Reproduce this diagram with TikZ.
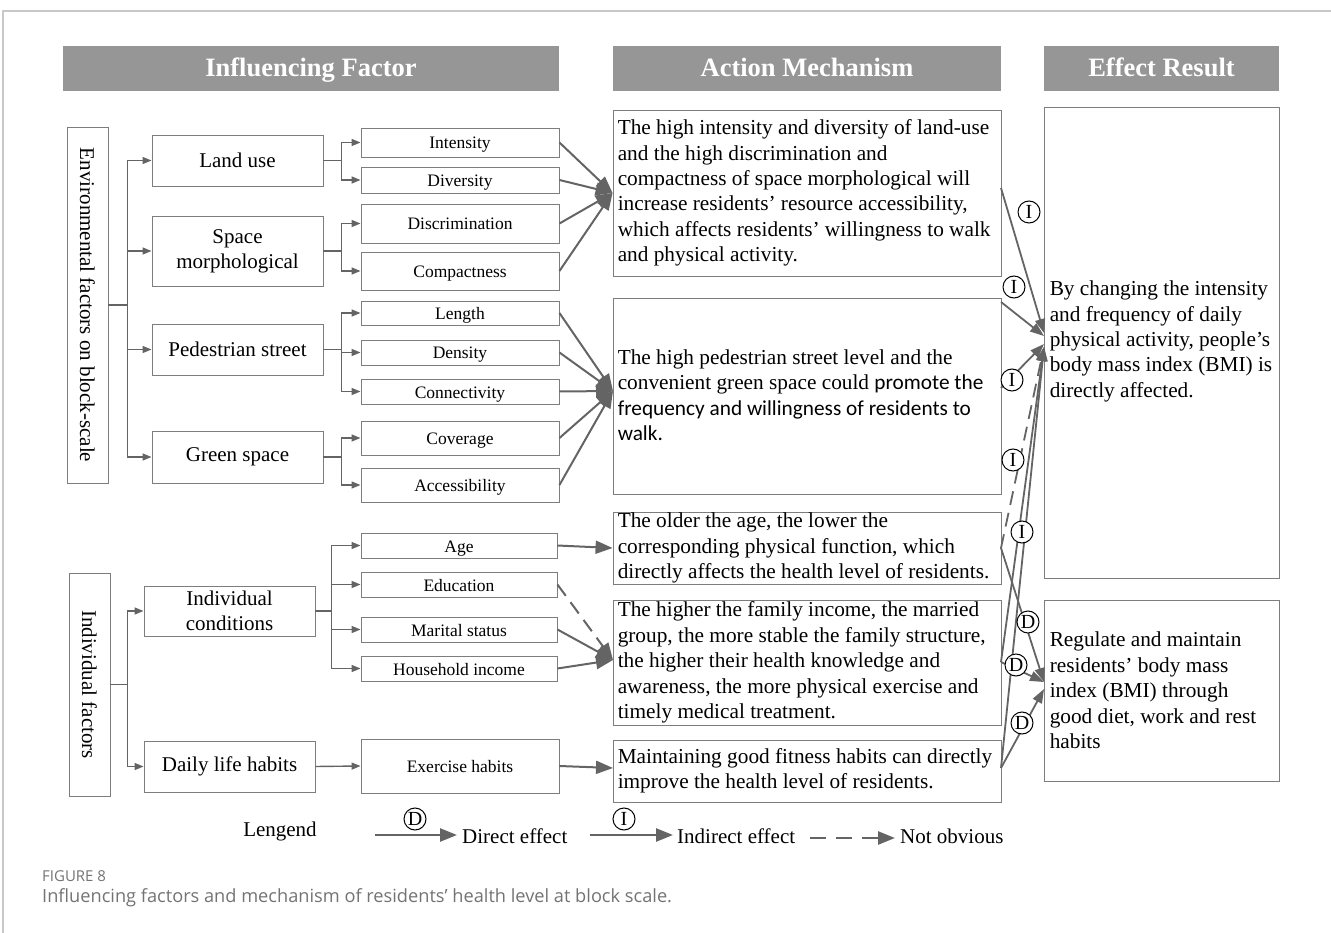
\documentclass[tikz,border=0pt]{standalone}
\usepackage{fontspec}
\setmainfont{Liberation Serif}
\newfontfamily\calib{Carlito}
\newfontfamily\capfont{Open Sans}
\usetikzlibrary{arrows.meta}
\definecolor{hdrgray}{RGB}{150,150,150}
\definecolor{boxgray}{RGB}{125,125,125}
\definecolor{linegray}{RGB}{100,100,100}
\definecolor{capgray}{RGB}{115,115,115}
\definecolor{framegray}{RGB}{200,200,200}
\begin{document}
\begin{tikzpicture}[x=1pt,y=-1pt,
  hdr/.style={fill=hdrgray,text=white,font=\bfseries\fontsize{26.5}{30}\selectfont,minimum height=45pt,inner sep=0pt,text height=21pt,text depth=4pt},
  box/.style={draw=boxgray,line width=0.9pt,fill=white,inner sep=0pt},
  lvltwo/.style={box,minimum width=171pt,font=\fontsize{21}{25}\selectfont,align=center},
  lvlthree/.style={box,font=\fontsize{17.5}{21}\selectfont,text height=16pt,text depth=3pt},
  atext/.style={anchor=west,align=left,inner sep=0pt,font=\fontsize{21.3}{25.4}\selectfont},
  bus/.style={draw=linegray,line width=1.4pt,-{Triangle[length=9pt,width=7pt]}},
  big/.style={draw=linegray,line width=2pt,-{Triangle[length=17pt,width=13pt]}},
  mid/.style={draw=linegray,line width=1.8pt,-{Triangle[length=14pt,width=10pt]}},
  circ/.style={circle,draw=black,line width=1pt,inner sep=0pt,minimum size=22pt,fill=white,font=\fontsize{20}{20}\selectfont},
  lg/.style={font=\fontsize{21}{25}\selectfont,inner sep=0pt}
]
\useasboundingbox (0,0) rectangle (1331,933);
% frame
\draw[framegray,line width=1.5pt] (3,933) -- (3,11) -- (1331,11);

% headers
\node[hdr,minimum width=496pt] (h1) at (311,68.5) {Influencing Factor};
\node[hdr,minimum width=388pt] (h2) at (807,68.5) {Action Mechanism};
\node[hdr,minimum width=235pt] (h3) at (1161.5,68.5) {Effect Result};

% left vertical boxes
\node[box,rotate=-90,minimum width=356pt,minimum height=41pt,font=\fontsize{21}{25}\selectfont] (env) at (87.5,305) {Environmental factors on block-scale};
\node[box,rotate=-90,minimum width=223pt,minimum height=41pt,font=\fontsize{21}{25}\selectfont] (ind) at (89.5,684.5) {Individual factors};

% level two
\node[lvltwo,minimum height=51pt] (landuse) at (237.5,160.5) {Land use};
\node[lvltwo,minimum height=70pt] (space) at (237.5,251) {Space\\morphological};
\node[lvltwo,minimum height=51pt] (ped) at (237.5,349.5) {Pedestrian street};
\node[lvltwo,minimum height=52pt] (green) at (237.5,457) {Green space};
\node[lvltwo,minimum height=50pt] (indcond) at (229.5,611) {Individual\\conditions};
\node[lvltwo,minimum height=51pt] (daily) at (229.5,766.5) {Daily life habits};

% level three
\node[lvlthree,minimum width=198pt,minimum height=29pt] (intensity) at (460,142.5) {Intensity};
\node[lvlthree,minimum width=198pt,minimum height=26pt] (diversity) at (460,180) {Diversity};
\node[lvlthree,minimum width=198pt,minimum height=39pt] (discrim) at (460,223.5) {Discrimination};
\node[lvlthree,minimum width=198pt,minimum height=38pt] (compact) at (460,271) {Compactness};
\node[lvlthree,minimum width=198pt,minimum height=24pt] (length) at (460,313) {Length};
\node[lvlthree,minimum width=198pt,minimum height=25pt] (density) at (460,352.5) {Density};
\node[lvlthree,minimum width=198pt,minimum height=25pt] (connect) at (460,391.5) {Connectivity};
\node[lvlthree,minimum width=198pt,minimum height=34pt] (coverage) at (460,438) {Coverage};
\node[lvlthree,minimum width=198pt,minimum height=34pt] (access) at (460,485) {Accessibility};
\node[lvlthree,minimum width=196pt,minimum height=25pt] (age) at (459,545.5) {Age};
\node[lvlthree,minimum width=196pt,minimum height=25pt] (edu) at (459,584.5) {Education};
\node[lvlthree,minimum width=196pt,minimum height=25pt] (marital) at (459,629.5) {Marital status};
\node[lvlthree,minimum width=196pt,minimum height=25pt] (income) at (459,668.5) {Household income};
\node[lvlthree,minimum width=198pt,minimum height=54pt] (exercise) at (460,766) {Exercise habits};

% action boxes
\node[box,minimum width=388pt,minimum height=166pt] (A1) at (807,193) {};
\node[box,minimum width=388pt,minimum height=196pt] (A2) at (807,396) {};
\node[box,minimum width=388pt,minimum height=72pt] (A3) at (807,548) {};
\node[box,minimum width=388pt,minimum height=125pt] (A4) at (807,662.5) {};
\node[box,minimum width=388pt,minimum height=62pt] (A5) at (807,771) {};
\node[atext] (A1t) at ([xshift=5pt]A1.west) {The high intensity and diversity of land-use\\and the high discrimination and\\compactness of space morphological will\\increase residents' resource accessibility,\\which affects residents' willingness to walk\\and physical activity.};
\node[atext] (A2t) at ([xshift=5pt,yshift=1pt]A2.west) {The high pedestrian street level and the\\convenient green space could {\calib promote the}\\{\calib frequency and willingness of residents to}\\{\calib walk.}};
\node[atext] (A3t) at ([xshift=5pt]A3.west) {The older the age, the lower the\\corresponding physical function, which\\directly affects the health level of residents.};
\node[atext] (A4t) at ([xshift=5pt]A4.west) {The higher the family income, the married\\group, the more stable the family structure,\\the higher their health knowledge and\\awareness, the more physical exercise and\\timely medical treatment.};
\node[atext] (A5t) at ([xshift=5pt]A5.west) {Maintaining good fitness habits can directly\\improve the health level of residents.};

% effect boxes
\node[box,minimum width=235pt,minimum height=471pt] (E1) at (1161.5,342.5) {};
\node[box,minimum width=235pt,minimum height=181pt] (E2) at (1161.5,690.5) {};
\node[atext] (E1t) at ([xshift=6pt,yshift=1pt]E1.west) {By changing the intensity\\and frequency of daily\\physical activity, people's\\body mass index (BMI) is\\directly affected.};
\node[atext] (E2t) at ([xshift=6pt]E2.west) {Regulate and maintain\\residents' body mass\\index (BMI) through\\good diet, work and rest\\habits};

% left buses
\foreach \t in {landuse,space,ped,green}
  \draw[bus] (env.north) -- ++(19,0) |- (\t.west);
\foreach \t in {indcond,daily}
  \draw[bus] (ind.north) -- ++(17,0) |- (\t.west);
\foreach \t in {intensity,diversity}
  \draw[bus] (landuse.east) -- ++(18,0) |- (\t.west);
\foreach \t in {discrim,compact}
  \draw[bus] (space.east) -- ++(18,0) |- (\t.west);
\foreach \t in {length,density,connect}
  \draw[bus] (ped.east) -- ++(18,0) |- (\t.west);
\foreach \t in {coverage,access}
  \draw[bus] (green.east) -- ++(18,0) |- (\t.west);
\foreach \t in {age,edu,marital,income}
  \draw[bus] (indcond.east) -- ++(16,0) |- (\t.west);
\draw[bus] (daily.east) -- (exercise.west);

% big converging arrows
\coordinate (a2in) at (613,391);
\coordinate (a4in) at (613,660);
\coordinate (a5in) at (613,768);
\foreach \s in {intensity,diversity,discrim,compact}
  \draw[big] (\s.east) -- (A1.west);
\foreach \s in {length,density,connect,coverage,access}
  \draw[big] (\s.east) -- (a2in);
\draw[big] (age.east) -- (A3.west);
\draw[big,dash pattern=on 14pt off 8pt] (edu.east) -- (a4in);
\draw[big] (marital.east) -- (a4in);
\draw[big] (income.east) -- (a4in);
\draw[big] (exercise.east) -- (a5in);

% right side
\coordinate (r1) at (1001,188);
\coordinate (r2a) at (1001,302);
\coordinate (r2b) at (1001,388);
\coordinate (r3) at (1001,548);
\coordinate (r4) at (1001,662);
\coordinate (r5) at (1001,768);
\coordinate (e1a) at (1044,333);
\coordinate (e1b) at (1044,336);
\coordinate (e1c) at (1044,344);
\coordinate (e1d) at (1044,347);
\coordinate (e2a) at (1044,682);
\coordinate (e2b) at (1044,689);
\draw[mid] (r1) -- (e1a);
\draw[mid] (r2a) -- (e1b);
\draw[mid] (r2b) -- (e1c);
\draw[mid,dash pattern=on 14pt off 8pt] (r3) -- (e1d);
\draw[mid] (r4) -- (e1d);
\draw[mid] (r5) -- (e1d);
\draw[mid] (r3) -- (e2a);
\draw[mid] (r4) -- (e2a);
\draw[mid] (r5) -- (e2b);

\node[circ] (c1) at (1029,212) {I};
\node[circ] (c2) at (1014,287) {I};
\node[circ] (c3) at (1012,380) {I};
\node[circ] (c4) at (1013,460) {I};
\node[circ] (c5) at (1022,532) {I};
\node[circ] (c6) at (1028,622) {D};
\node[circ] (c7) at (1016,665) {D};
\node[circ] (c8) at (1022,723) {D};

% legend
\node[lg] (lgt) at (280,831) {Lengend};
\coordinate (l1a) at (375,835);
\coordinate (l1b) at (457,835);
\draw[big,line width=2.5pt] (l1a) -- (l1b);
\node[circ,fill=none] (lc1) at (415,819) {D};
\node[lg,anchor=west] (lt1) at (462,836) {Direct effect};
\coordinate (l2a) at (590,835);
\coordinate (l2b) at (673,835);
\draw[big,line width=2.5pt] (l2a) -- (l2b);
\node[circ,fill=none] (lc2) at (624,819) {I};
\node[lg,anchor=west] (lt2) at (677,836) {Indirect effect};
\coordinate (l3a) at (810,838);
\coordinate (l3b) at (895,838);
\draw[big,line width=2.5pt,dash pattern=on 16pt off 10pt] (l3a) -- (l3b);
\node[lg,anchor=west] (lt3) at (900,836) {Not obvious};

% caption
\node[anchor=west,inner sep=0pt,text=capgray,font=\capfont\fontsize{15}{17}\selectfont] (fig) at (42,876) {FIGURE 8};
\node[anchor=west,inner sep=0pt,text=capgray,font=\capfont\fontsize{18.2}{22}\selectfont] (cap) at (42,898) {Influencing factors and mechanism of residents’ health level at block scale.};
\end{tikzpicture}
\end{document}
